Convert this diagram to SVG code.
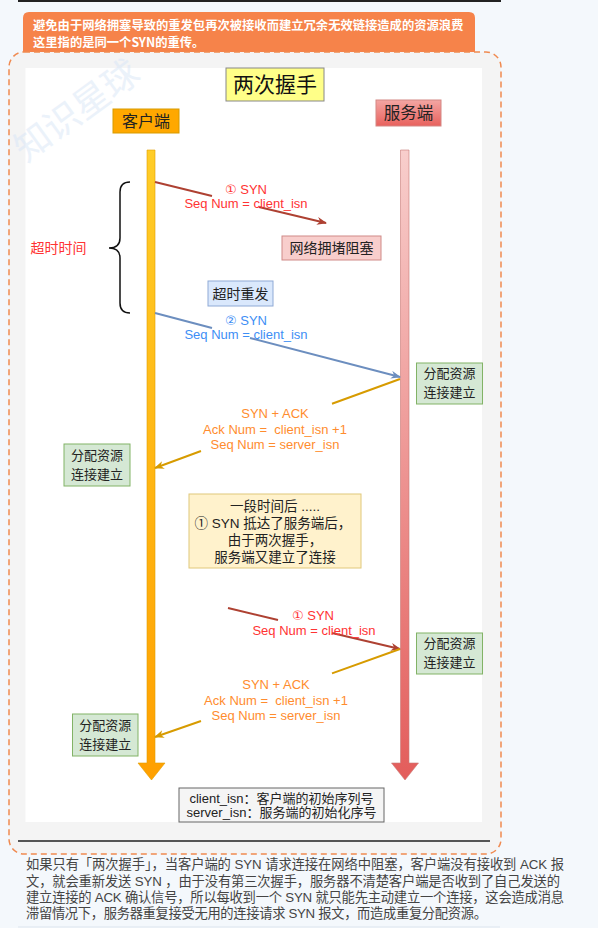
<svg xmlns="http://www.w3.org/2000/svg" width="598" height="928" viewBox="0 0 598 928">
<defs>
<style>
.cj{font-family:'Noto Sans CJK SC','Liberation Sans',sans-serif}
.mx{font-family:'Liberation Sans','Noto Sans CJK SC',sans-serif}
.lb{font-family:'Liberation Sans','DejaVu Sans','Noto Sans CJK SC',sans-serif;font-size:13px;text-anchor:middle}
.node{font-size:14px;fill:#222;text-anchor:middle}
.n2{font-size:13px;fill:#222;text-anchor:middle}
.grn{fill:#d5e8d4;stroke:#82b366;stroke-width:1}
.red{fill:#ff3333}.blu{fill:#3d8ef5}.org{fill:#ff8c2e}
.conn{fill:none;stroke-width:2}
</style>
<linearGradient id="gC" x1="0" y1="0" x2="0" y2="1"><stop offset="0" stop-color="#ffcd28"/><stop offset="1" stop-color="#ffa000"/></linearGradient>
<linearGradient id="gS" x1="0" y1="0" x2="0" y2="1"><stop offset="0" stop-color="#f8cecc"/><stop offset="1" stop-color="#e35d5b"/></linearGradient>
<linearGradient id="gSB" x1="0" y1="0" x2="0" y2="1"><stop offset="0" stop-color="#f4a6a3"/><stop offset="1" stop-color="#e8615d"/></linearGradient>
<marker id="mR" viewBox="0 0 10 8" refX="9" refY="4" markerWidth="10" markerHeight="8" markerUnits="userSpaceOnUse" orient="auto"><path d="M0,0 L10,4 L0,8 L3,4 z" fill="#ae4132"/></marker>
<marker id="mB" viewBox="0 0 10 8" refX="9" refY="4" markerWidth="10" markerHeight="8" markerUnits="userSpaceOnUse" orient="auto"><path d="M0,0 L10,4 L0,8 L3,4 z" fill="#6c8ebf"/></marker>
<marker id="mO" viewBox="0 0 10 8" refX="9" refY="4" markerWidth="10" markerHeight="8" markerUnits="userSpaceOnUse" orient="auto"><path d="M0,0 L10,4 L0,8 L3,4 z" fill="#d79b00"/></marker>
</defs>

<rect x="0" y="0" width="598" height="928" fill="#f4f8fc"/>
<line x1="18" y1="1" x2="501" y2="1" stroke="#222" stroke-width="2"/>

<g id="header">
<path d="M23,52 V18 Q23,12 29,12 H469 Q475,12 475,18 V52 Z" fill="#f6834a"/>
<text class="cj" x="33" y="30" font-size="12.3" font-weight="bold" fill="#fff">避免由于网络拥塞导致的重发包再次被接收而建立冗余无效链接造成的资源浪费</text>
<text class="cj" x="33" y="47" font-size="12.3" font-weight="bold" fill="#fff">这里指的是同一个SYN的重传。</text>
</g>

<g id="frame">
<rect x="9" y="52" width="492" height="802" rx="15" fill="#f4f4f4" stroke="#f08a50" stroke-width="1.5" stroke-dasharray="6 4"/>
<rect x="25.5" y="68" width="456.5" height="754" fill="#ffffff"/>
<line x1="18" y1="841" x2="490" y2="841" stroke="#222" stroke-width="1.5"/>
</g>

<g id="title">
<rect x="226" y="68" width="98" height="33" fill="#ffff88" stroke="#888" stroke-width="1"/>
<text class="cj" x="275" y="92" font-size="21" fill="#111" text-anchor="middle">两次握手</text>
</g>

<g id="client">
<rect x="113" y="109" width="66" height="24" fill="#ffa800" stroke="#d79b00" stroke-width="1"/>
<text class="cj" x="146" y="127" font-size="16" fill="#222" text-anchor="middle">客户端</text>
</g>
<g id="server">
<rect x="376" y="100" width="65" height="26" fill="url(#gSB)" stroke="#d48784" stroke-width="1"/>
<text class="cj" x="408.5" y="119" font-size="16.5" fill="#222" text-anchor="middle">服务端</text>
</g>

<g id="client-lifeline">
<path d="M147,150 H155 V763 H165 L151.5,780 L138,763 H147 Z" fill="url(#gC)" stroke="#e0a000" stroke-width="0.6"/>
</g>
<g id="server-lifeline">
<path d="M400.5,150 H409 V763 H418.5 L405,780 L391.5,763 H400.5 Z" fill="url(#gS)" stroke="#c87a77" stroke-width="0.6"/>
</g>

<g id="timeout">
<path d="M130,182 Q120,182 120,192 V238 Q120,248 109,248 Q120,248 120,258 V303 Q120,313 130,313" fill="none" stroke="#111" stroke-width="1.5"/>
<text class="cj" x="58.5" y="253" font-size="14" fill="#ff3333" text-anchor="middle">超时时间</text>
</g>

<g id="connectors">
<path class="conn" d="M155,182 L212,196 M259,207 L326,223" stroke="#ae4132" marker-end="url(#mR)"/>
<path class="conn" d="M155,313 L212,328 M250,338 L400,377" stroke="#6c8ebf" marker-end="url(#mB)"/>
<path class="conn" d="M400,379 L332,403.7 M201,451 L155,468" stroke="#d79b00" marker-end="url(#mO)"/>
<path class="conn" d="M228,608 L278,620 M332,633 L400,649" stroke="#ae4132" marker-end="url(#mR)"/>
<path class="conn" d="M400,649 L332,673.4 M201,721 L155,737" stroke="#d79b00" marker-end="url(#mO)"/>
</g>

<g id="labels">
<text class="lb red" x="246" y="194">① SYN</text>
<text class="lb red" x="246" y="208">Seq Num = client_isn</text>
<text class="lb blu" x="246" y="325">② SYN</text>
<text class="lb blu" x="246" y="339">Seq Num = client_isn</text>
<text class="lb org" x="275" y="418">SYN + ACK</text>
<text class="lb org" x="275" y="434" xml:space="preserve">Ack Num =  client_isn +1</text>
<text class="lb org" x="275" y="449">Seq Num = server_isn</text>
<text class="lb red" x="313" y="620">① SYN</text>
<text class="lb red" x="314" y="635">Seq Num = client_isn</text>
<text class="lb org" x="276" y="689">SYN + ACK</text>
<text class="lb org" x="276" y="705" xml:space="preserve">Ack Num =  client_isn +1</text>
<text class="lb org" x="276" y="720">Seq Num = server_isn</text>
</g>

<g id="congestion">
<rect x="282" y="236" width="99" height="24" fill="#f8cecc" stroke="#d08a87" stroke-width="1"/>
<text class="cj node" x="331.5" y="253">网络拥堵阻塞</text>
</g>
<g id="resend">
<rect x="208" y="281" width="65" height="25" fill="#dae8fc" stroke="#8faad6" stroke-width="1"/>
<text class="cj node" x="240.5" y="298.5">超时重发</text>
</g>

<g id="server-alloc-1">
<rect class="grn" x="416.5" y="363" width="66" height="41"/>
<text class="cj n2" x="449.5" y="378">分配资源</text>
<text class="cj n2" x="449.5" y="397">连接建立</text>
</g>
<g id="client-alloc-1">
<rect class="grn" x="64" y="444" width="66" height="42"/>
<text class="cj n2" x="97" y="460">分配资源</text>
<text class="cj n2" x="97" y="479">连接建立</text>
</g>
<g id="note">
<rect x="189" y="494" width="172" height="74" fill="#fff2cc" stroke="#e0c87a" stroke-width="1"/>
<text class="mx" x="275" y="511" font-size="13.5" fill="#222" text-anchor="middle">一段时间后 .....</text>
<text class="mx" x="273" y="528" font-size="13.5" fill="#222" text-anchor="middle">① SYN 抵达了服务端后，</text>
<text class="mx" x="275" y="545" font-size="13.5" fill="#222" text-anchor="middle">由于两次握手，</text>
<text class="mx" x="275" y="562" font-size="13.5" fill="#222" text-anchor="middle">服务端又建立了连接</text>
</g>
<g id="server-alloc-2">
<rect class="grn" x="416.5" y="633" width="66" height="41"/>
<text class="cj n2" x="449.5" y="648">分配资源</text>
<text class="cj n2" x="449.5" y="667">连接建立</text>
</g>
<g id="client-alloc-2">
<rect class="grn" x="72.5" y="714" width="65.5" height="42"/>
<text class="cj n2" x="105.25" y="730">分配资源</text>
<text class="cj n2" x="105.25" y="749">连接建立</text>
</g>

<g id="legend">
<rect x="179" y="788" width="205" height="34" fill="#f5f5f5" stroke="#666" stroke-width="1"/>
<text class="mx" x="281.5" y="803" font-size="13" fill="#222" text-anchor="middle">client_isn：客户端的初始序列号</text>
<text class="mx" x="281.5" y="817" font-size="13" fill="#222" text-anchor="middle">server_isn：服务端的初始化序号</text>
</g>

<g id="watermark">
<text class="cj" x="26" y="163" font-size="36" fill="#d8e6f7" opacity="0.5" transform="rotate(-36 26 163)">知识星球</text>
</g>

<g id="paragraph" class="mx" font-size="13.3" fill="#444">
<text x="26" y="869" textLength="538" lengthAdjust="spacing">如果只有「两次握手」，当客户端的 SYN 请求连接在网络中阻塞，客户端没有接收到 ACK 报</text>
<text x="26" y="886" textLength="534" lengthAdjust="spacing">文，就会重新发送 SYN ，由于没有第三次握手，服务器不清楚客户端是否收到了自己发送的</text>
<text x="26" y="902" textLength="538" lengthAdjust="spacing">建立连接的 ACK 确认信号，所以每收到一个 SYN 就只能先主动建立一个连接，这会造成消息</text>
<text x="26" y="918" textLength="461" lengthAdjust="spacing">滞留情况下，服务器重复接受无用的连接请求 SYN 报文，而造成重复分配资源。</text>
</g>
<line x1="18" y1="927" x2="500" y2="927" stroke="#dde5ee" stroke-width="1"/>
</svg>
